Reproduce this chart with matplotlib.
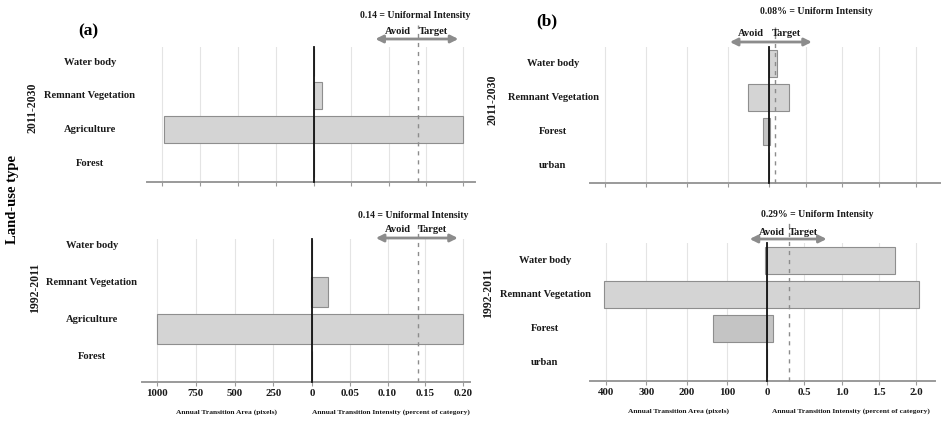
import matplotlib
matplotlib.use("Agg")
import matplotlib.pyplot as plt
from matplotlib.transforms import blended_transform_factory, offset_copy

plt.rcParams['font.family'] = ['Liberation Serif', 'DejaVu Serif']
plt.rcParams['font.weight'] = 'bold'

# ---------------- data ----------------
categories_a = ['Water body', 'Remnant Vegetation', 'Agriculture', 'Forest']
categories_b = ['Water body', 'Remnant Vegetation', 'Forest', 'urban']

a_2011_2030_area = [0, 0, 990, 0]
a_2011_2030_intensity = [0, 0.011, 0.20, 0]
a_1992_2011_area = [0, 5, 1000, 0]
a_1992_2011_intensity = [0, 0.021, 0.20, 0]

b_2011_2030_area = [1, 51, 15, 0]
b_2011_2030_intensity = [0.11, 0.27, 0.012, 0]
b_1992_2011_area = [5, 404, 135, 0]
b_1992_2011_intensity = [1.71, 2.03, 0.075, 0]

uniform_a = [0.14, 0.14]
uniform_b = [0.08, 0.29]
uniform_text_a = ['0.14 = Uniformal Intensity', '0.14 = Uniformal Intensity']
uniform_text_b = ['0.08% = Uniform Intensity', '0.29% = Uniform Intensity']

periods = ['2011-2030', '1992-2011']

area_ticks_a = [1000, 750, 500, 250]
int_ticks_a = [0, 0.05, 0.10, 0.15, 0.20]
int_labels_a = ['0', '0.05', '0.10', '0.15', '0.20']
area_ticks_b = [400, 300, 200, 100]
int_ticks_b = [0, 0.5, 1.0, 1.5, 2.0]
int_labels_b = ['0', '0.5', '1.0', '1.5', '2.0']

# ---------------- figure ----------------
W, H = 941, 422
fig = plt.figure(figsize=(W / 100, H / 100), dpi=100)

GRID = '#e4e4e4'
SPINE = '#9a9a9a'
ARROW = '#8c8c8c'
FILL = '#d4d4d4'
EDGE = '#8e8e8e'


def rect(x0, x1, ytop, ybot):
    return [x0 / W, 1 - ybot / H, (x1 - x0) / W, (ybot - ytop) / H]


panels = [
    # (a) top
    dict(x0=147, xz=314, x1=475, yt=47, yb=182, lx=1100, rx=0.216, yl=(-0.56, 3.45),
         cats=categories_a, area=a_2011_2030_area, inten=a_2011_2030_intensity,
         u=uniform_a[0], utext=uniform_text_a[0], at=area_ticks_a, it=int_ticks_a,
         il=int_labels_a, labels=False, catx=90, cshift=0.0, per=periods[0], perxy=(33, 108),
         arr=(-43, 40, 8), av=(-20, 15, 16), hd=(-3, 32), dash=22,
         colors=[FILL, FILL, FILL, FILL]),
    # (a) bottom
    dict(x0=142, xz=312, x1=470, yt=239, yb=382, lx=1097, rx=0.209, yl=(-0.43, 3.43),
         cats=categories_a, area=a_1992_2011_area, inten=a_1992_2011_intensity,
         u=uniform_a[1], utext=uniform_text_a[1], at=area_ticks_a, it=int_ticks_a,
         il=int_labels_a, labels=True, catx=92, cshift=0.25, per=periods[1], perxy=(35, 288),
         arr=(-42, 40, 1), av=(-20, 15, 9), hd=(-5, 24), dash=14,
         colors=[FILL, '#cacaca', FILL, FILL]),
    # (b) top
    dict(x0=590, xz=769, x1=940, yt=47, yb=183, lx=437, rx=2.33, yl=(-0.53, 3.5),
         cats=categories_b, area=b_2011_2030_area, inten=b_2011_2030_intensity,
         u=uniform_b[0], utext=uniform_text_b[0], at=area_ticks_b, it=int_ticks_b,
         il=int_labels_b, labels=False, catx=553, cshift=0.0, per=periods[0], perxy=(492, 100),
         arr=(-45, 37, 5), av=(-24, 12, 14), hd=(42, 35), dash=20,
         colors=[FILL, FILL, '#c4c4c4', FILL]),
    # (b) bottom
    dict(x0=590, xz=767, x1=935, yt=243, yb=381, lx=440, rx=2.25, yl=(-0.53, 3.51),
         cats=categories_b, area=b_1992_2011_area, inten=b_1992_2011_intensity,
         u=uniform_b[1], utext=uniform_text_b[1], at=area_ticks_b, it=int_ticks_b,
         il=int_labels_b, labels=True, catx=545, cshift=0.0, per=periods[1], perxy=(488, 293),
         arr=(-39, 38, 4), av=(-17, 15, 11), hd=(29, 29), dash=23,
         colors=[FILL, FILL, '#c4c4c4', FILL]),
]


def style_axis(ax):
    for s in ['top', 'left', 'right']:
        ax.spines[s].set_visible(False)
    ax.spines['bottom'].set_color(SPINE)
    ax.spines['bottom'].set_linewidth(1.4)
    ax.tick_params(axis='x', direction='out', length=3, width=0.8, color=SPINE,
                   labelsize=7.8, pad=2, labelcolor='#1a1a1a')
    ax.tick_params(axis='y', left=False, labelleft=False)
    ax.set_facecolor('none')
    ax.grid(axis='x', color=GRID, lw=0.8)
    ax.set_axisbelow(True)


for p in panels:
    axl = fig.add_axes(rect(p['x0'], p['xz'], p['yt'], p['yb']))
    axr = fig.add_axes(rect(p['xz'], p['x1'], p['yt'], p['yb']))
    n = len(p['cats'])
    ypos = list(range(n - 1, -1, -1))
    for ax in (axl, axr):
        style_axis(ax)
        ax.set_ylim(*p['yl'])
    axl.set_xlim(p['lx'], 0)
    axr.set_xlim(0, p['rx'])

    axl.barh(ypos, p['area'], height=0.8, color=p['colors'], edgecolor=EDGE, lw=0.8, zorder=2)
    axr.barh(ypos, p['inten'], height=0.8, color=p['colors'], edgecolor=EDGE, lw=0.8, zorder=2)

    axl.set_xticks(p['at'])
    axr.set_xticks(p['it'])
    if p['labels']:
        axl.set_xticklabels([str(t) for t in p['at']], fontweight='bold')
        axr.set_xticklabels(p['il'], fontweight='bold')
        axl.set_xlabel('Annual Transition Area (pixels)', fontsize=5.4, fontweight='bold',
                       labelpad=8, color='#1a1a1a')
        axr.set_xlabel('Annual Transition Intensity (percent of category)', fontsize=5.4,
                       fontweight='bold', labelpad=8, color='#1a1a1a')
    else:
        axl.set_xticklabels([])
        axr.set_xticklabels([])

    # zero line
    axr.axvline(0, color='#111111', lw=1.3, zorder=4, clip_on=False)
    # uniform intensity dashed line
    ext = p['dash'] / (p['yb'] - p['yt'])
    axr.axvline(p['u'], ymin=0, ymax=1 + ext, color=ARROW, lw=1.0,
                linestyle=(0, (3, 3.5)), zorder=3, clip_on=False)

    # category labels
    ctr = blended_transform_factory(fig.transFigure, axl.transData)
    for yv, c in zip(ypos, p['cats']):
        fig.text(p['catx'] / W, yv + p['cshift'], c, transform=ctr, ha='center', va='center',
                 fontsize=7.6, fontweight='bold', color='#1a1a1a')

    # period label
    fig.text(p['perxy'][0] / W, 1 - p['perxy'][1] / H, p['per'], rotation=90,
             ha='center', va='center', fontsize=8.5, fontweight='bold', color='#1a1a1a')

    # avoid/target arrow and texts
    base = blended_transform_factory(axr.transData, axr.transAxes)
    dl, dr, dy = p['arr']
    tl = offset_copy(base, fig=fig, x=dl, y=dy, units='dots')
    tr = offset_copy(base, fig=fig, x=dr, y=dy, units='dots')
    axr.annotate('', xy=(p['u'], 1), xycoords=tr, xytext=(p['u'], 1), textcoords=tl,
                 arrowprops=dict(arrowstyle='<|-|>', color=ARROW, lw=2.0,
                                 mutation_scale=11, shrinkA=0, shrinkB=0),
                 annotation_clip=False)
    ax_, tx_, ty_ = p['av']
    axr.text(p['u'], 1, 'Avoid', transform=offset_copy(base, fig=fig, x=ax_, y=ty_, units='dots'),
             ha='center', va='center', fontsize=7.6, fontweight='bold', color='#1a1a1a')
    axr.text(p['u'], 1, 'Target', transform=offset_copy(base, fig=fig, x=tx_, y=ty_, units='dots'),
             ha='center', va='center', fontsize=7.6, fontweight='bold', color='#1a1a1a')
    hx, hy = p['hd']
    axr.text(p['u'], 1, p['utext'], transform=offset_copy(base, fig=fig, x=hx, y=hy, units='dots'),
             ha='center', va='center', fontsize=7, fontweight='bold', color='#1a1a1a')

fig.text(88 / W, 1 - 31 / H, '(a)', ha='center', va='center', fontsize=12.5, fontweight='bold')
fig.text(547 / W, 1 - 21 / H, '(b)', ha='center', va='center', fontsize=12.5, fontweight='bold')
fig.text(13 / W, 1 - 200 / H, 'Land-use type', rotation=90, ha='center', va='center',
         fontsize=10.5, fontweight='bold')

fig.savefig('out.png', dpi=100, facecolor='white')
